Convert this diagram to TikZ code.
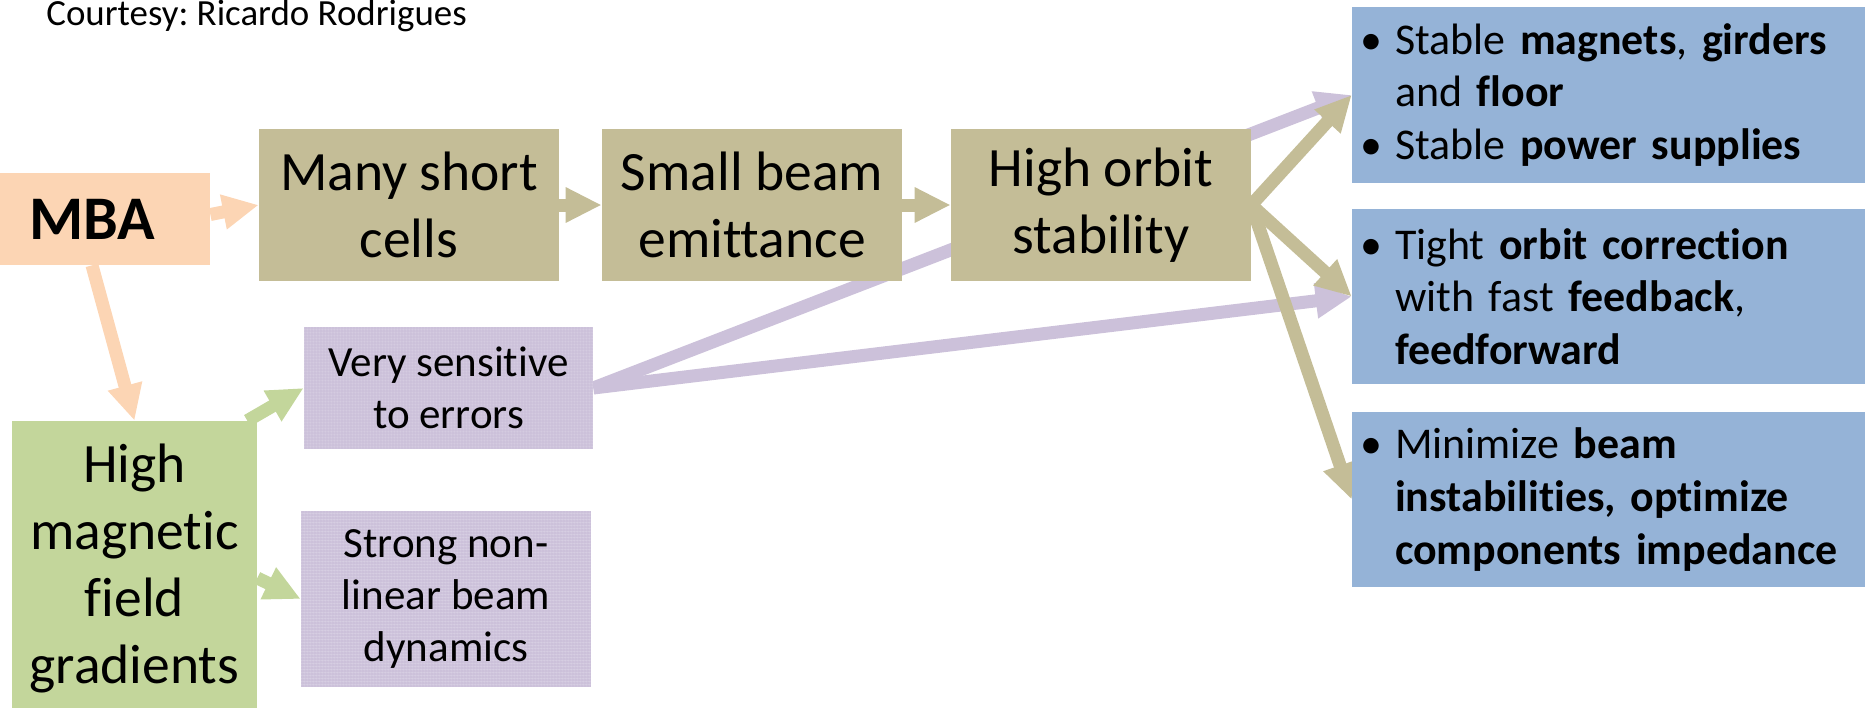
\documentclass[tikz,border=0pt]{standalone}
\usepackage{fontspec}
\setmainfont{Carlito}[Ligatures=NoCommon]
\usetikzlibrary{arrows.meta,backgrounds,patterns}

\definecolor{peach}{HTML}{FCD5B4}
\definecolor{khaki}{HTML}{C4BD97}
\definecolor{sage}{HTML}{C3D69B}
\definecolor{lilac}{HTML}{CCC1DA}
\definecolor{lilacdot}{HTML}{D9D1E4}
\definecolor{skyblue}{HTML}{95B3D7}

% fine woven texture for the lilac boxes
\pgfdeclarepatternformonly{finegrid}{\pgfqpoint{0pt}{0pt}}{\pgfqpoint{1.8pt}{1.8pt}}{\pgfqpoint{1.8pt}{1.8pt}}{%
  \pgfsetlinewidth{0.35pt}%
  \pgfpathmoveto{\pgfqpoint{0pt}{0.9pt}}\pgfpathlineto{\pgfqpoint{1.8pt}{0.9pt}}%
  \pgfpathmoveto{\pgfqpoint{0.9pt}{0pt}}\pgfpathlineto{\pgfqpoint{0.9pt}{1.8pt}}%
  \pgfusepath{stroke}}

\newcommand\blt{\makebox[0.7cm][l]{\textbullet}}
\newcommand\ind{\hspace*{0.7cm}}
\frenchspacing

\begin{document}
\begin{tikzpicture}[x=0.02cm, y=-0.02cm,
  box/.style={rectangle, inner sep=0pt, align=center, text=black},
  tanbox/.style={box, fill=khaki, minimum width=6cm, minimum height=3.04cm,
    font=\fontsize{31.6}{37.8}\selectfont},
  lilacbox/.style={box, fill=lilac, postaction={pattern=finegrid, pattern color=lilacdot},
    font=\fontsize{24.5}{29.6}\selectfont},
  bluebox/.style={rectangle, fill=skyblue, inner xsep=0.16cm, inner ysep=0pt,
    text width=10.14cm, align=left, minimum height=3.5cm,
    font=\fontsize{25}{29.9}\selectfont},
  conn/.style={line width=0.26cm, -{Triangle[length=0.72cm, width=0.66cm]}},
  tanarrow/.style={conn, draw=khaki, fill=khaki},
  lilacarrow/.style={conn, draw=lilac, fill=lilac},
  peacharrow/.style={conn, draw=peach, fill=peach},
  sagearrow/.style={conn, draw=sage, fill=sage}]

\useasboundingbox (0,0) rectangle (1865,707);

% source and chain of consequences
\node[box, fill=peach, minimum width=4.72cm, minimum height=1.84cm,
  font=\fontsize{35.3}{42}\selectfont\bfseries] (mba) at (92,219) {MBA};
\node[tanbox] (many) at (409,205) {Many short\\cells};
\node[tanbox] (small) at (752,205) {Small beam\\emittance};
\node[tanbox] (high) at (1101,205) {High orbit\\stability};

% gradients branch
\node[box, fill=sage, minimum width=4.9cm, minimum height=5.9cm,
  font=\fontsize{31.6}{38.1}\selectfont] (grad) at (134.5,568.5)
  {High\\magnetic\\field\\gradients};
\node[lilacbox, minimum width=5.78cm, minimum height=2.44cm] (sens) at (448.5,388)
  {Very sensitive\\to errors};
\node[lilacbox, minimum width=5.8cm, minimum height=3.52cm] (nonlin) at (446,599)
  {Strong non-\\linear beam\\dynamics};

% requirements
\node[bluebox, minimum height=3.52cm] (mech) at (1613.5,95)
  {\blt Stable \textbf{magnets}, \textbf{girders}\\
   \ind and \textbf{floor}\\
   \blt Stable \textbf{power supplies}};
\node[bluebox] (orbit) at (1613.5,296.5)
  {\blt Tight \textbf{orbit correction}\\
   \ind with fast \textbf{feedback},\\
   \ind \textbf{feedforward}};
\node[bluebox] (instab) at (1613.5,499.5)
  {\blt Minimize \textbf{beam}\\
   \ind \textbf{instabilities, optimize}\\
   \ind \textbf{components impedance}};

\node[anchor=base west, inner sep=0pt, font=\fontsize{21}{25}\selectfont] (credit) at (46,25)
  {Courtesy: Ricardo Rodrigues};

\begin{pgfonlayer}{background}
  \draw[lilacarrow] (sens.east) -- (mech.west);
  \draw[lilacarrow] (sens.east) -- (orbit.west);
  \draw[tanarrow] (high.east) -- (mech.west);
  \draw[tanarrow] (high.east) -- (orbit.west);
  \draw[tanarrow] (high.east) -- (instab.west);
  \draw[peacharrow] ([yshift=0.09cm]mba.east) -- (many.west);
  \draw[tanarrow] (many.east) -- (small.west);
  \draw[tanarrow] (small.east) -- (high.west);
  \draw[peacharrow] (mba.south) -- (grad.north);
  \draw[sagearrow] ([xshift=-0.2cm]grad.north east) -- (sens.west);
  \draw[sagearrow] ([yshift=-0.19cm]grad.east) -- (nonlin.west);
\end{pgfonlayer}
\end{tikzpicture}
\end{document}
